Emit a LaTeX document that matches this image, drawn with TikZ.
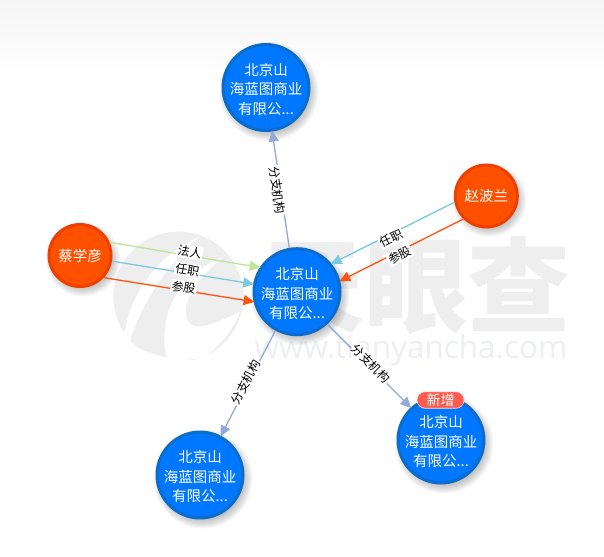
\documentclass[tikz,border=0pt]{standalone}
\usepackage{fontspec}
\setmainfont{Noto Sans CJK SC}
\newfontfamily\urlfont{Open Sans}
\usetikzlibrary{arrows.meta,calc}
\definecolor{blueA}{HTML}{0077FF}
\definecolor{blueB}{HTML}{0A6CCB}
\definecolor{redA}{HTML}{FF5000}
\definecolor{redB}{HTML}{EE3F00}
\definecolor{wm}{HTML}{EEEEEE}
\definecolor{wmb}{HTML}{EDEFF2}
\definecolor{eGreen}{HTML}{BFE39A}
\definecolor{eCyan}{HTML}{7CC8E2}
\definecolor{eOrange}{HTML}{FF5410}
\definecolor{eSteel}{HTML}{93A9D6}
\definecolor{badgeRed}{HTML}{FF5B4F}
\tikzset{
  x=1pt,y=-1pt,
  comp/.style={circle,draw=blueB,line width=3pt,fill=blueA,minimum size=86pt,inner sep=-10pt,text=white,align=center,font=\fontsize{14.5}{19.5}\selectfont},
  pers/.style={circle,draw=redB,line width=3pt,fill=redA,minimum size=62pt,inner sep=-10pt,text=white,align=center,font=\fontsize{14.5}{19}\selectfont},
  rel/.style={-{Triangle[length=11pt,width=10pt]},line width=1.3pt,shorten >=-1pt},
  lab/.style={fill=white,inner sep=1pt,font=\fontsize{12}{12}\selectfont,text=black,sloped,pos=.53,yshift=#1},
  badge/.style={rounded corners=8pt,fill=badgeRed,draw=white!80!badgeRed,line width=.6pt,text=white,minimum width=47pt,minimum height=16.5pt,inner sep=0pt,font=\fontsize{14}{14}\selectfont},
}
\newcommand{\softshadow}[3]{%
  \foreach \k in {0,...,7}{\fill[black,opacity=.03] ($(#1,#2)+(3,4)$) circle ({#3+5-\k*1.2});}}
\newcommand{\comptext}{\rule{0pt}{16pt}北京山\\海蓝图商业\\有限公...}
\begin{document}
\begin{tikzpicture}
\useasboundingbox (0,0) rectangle (604,556);
\fill[white] (0,0) rectangle (604,556);
\shade[top color=black!4,bottom color=white] (0,0) rectangle (604,78);
% watermark logo
\begin{scope}[shift={(100,225)},x=.3333pt,y=-.3333pt]
\fill[wm] (235,215) circle (195);
\fill[white] (40,420) -- (85,355) .. controls (170,400) and (270,420) .. (340,395) -- (420,420) -- (40,420) -- cycle;
\fill[white] (70,345) .. controls (85,210) and (170,90) .. (300,35) .. controls (210,110) and (130,220) .. (85,360) -- cycle;
\fill[white] (205,420) .. controls (170,300) and (210,160) .. (370,95) .. controls (280,170) and (240,240) .. (265,290) .. controls (285,320) and (340,300) .. (420,260) .. controls (400,320) and (350,370) .. (310,400) .. controls (270,400) and (230,410) .. (205,420) -- cycle;
\end{scope}
\node[text=wm,font=\fontsize{103}{103}\selectfont\bfseries,inner sep=0pt] (wmark) at (416,286) {天眼查};
\node[text=wmb,font=\urlfont\fontsize{31.5}{32}\selectfont,inner sep=0pt] (wurl) at (411,350) {www.tianyancha.com};
% shadows
\softshadow{297}{291.7}{44.5}
\softshadow{266}{87.5}{44.5}
\softshadow{200}{475}{44.5}
\softshadow{441}{440}{44.5}
\softshadow{486.3}{196}{32}
\softshadow{80}{255.5}{32}
% nodes
\node[comp] (c) at (297,291.7) {\comptext};
\node[comp] (t) at (266,87.5) {\comptext};
\node[comp] (bl) at (200,475) {\comptext};
\node[comp] (br) at (441,440) {\comptext};
\node[pers] (z) at (486.3,196) {赵波兰};
\node[pers] (p) at (80,255.5) {蔡学彦};
\node[badge] (nb) at (440.5,400) {新增};
% edges
\draw[rel,eGreen] (p.24) -- node[lab=3.5pt]{法人} (c.147);
\draw[rel,eCyan] (p.-10) -- node[lab=3.5pt]{任职} (c.170);
\draw[rel,eOrange] (p.-43) -- node[lab=3pt]{参股} (c.193);
\draw[rel,eCyan] (z.191) -- node[lab=-4pt]{任职} (c.39);
\draw[rel,eOrange] (z.225) -- node[lab=-4pt]{参股} (c.14);
\draw[rel,eSteel] (c.100) -- node[lab=-3.5pt,pos=.5]{分支机构} (t.-82);
\draw[rel,eSteel] (c.241) -- node[lab=2.5pt,pos=.5]{分支机构} (bl.62);
\draw[rel,eSteel] (c.-47) -- node[lab=3pt,pos=.5]{分支机构} (br.133);
\end{tikzpicture}
\end{document}
